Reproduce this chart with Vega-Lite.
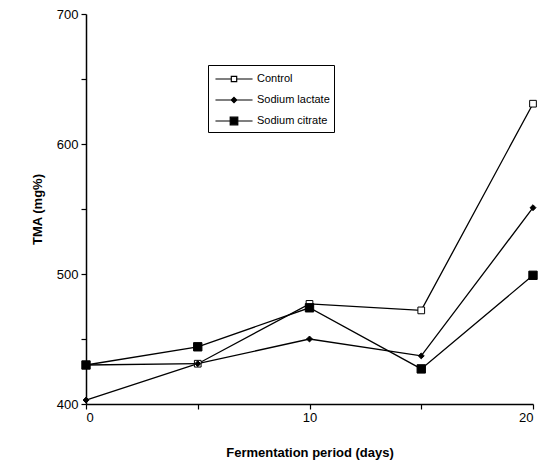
{
  "$schema": "https://vega.github.io/schema/vega-lite/v6.json",
  "width": 447,
  "height": 390,
  "autosize": "none",
  "padding": {"left": 86, "top": 14, "right": 19, "bottom": 62},
  "background": "white",
  "config": {
    "view": {"stroke": null},
    "font": "Liberation Sans",
    "axis": {"domainColor": "black", "tickColor": "black", "labelColor": "black", "titleColor": "black", "grid": false, "labelFont": "Liberation Sans", "titleFont": "Liberation Sans", "labelFontSize": 13, "titleFontSize": 13, "titleFontWeight": "bold", "domainWidth": 1.5, "tickWidth": 1.2}
  },
  "data": {"values": [
    {"series": "Control", "day": 0, "tma": 430},
    {"series": "Control", "day": 5, "tma": 431},
    {"series": "Control", "day": 10, "tma": 477},
    {"series": "Control", "day": 15, "tma": 472},
    {"series": "Control", "day": 20, "tma": 631},
    {"series": "Sodium lactate", "day": 0, "tma": 403},
    {"series": "Sodium lactate", "day": 5, "tma": 431},
    {"series": "Sodium lactate", "day": 10, "tma": 450},
    {"series": "Sodium lactate", "day": 15, "tma": 437},
    {"series": "Sodium lactate", "day": 20, "tma": 551},
    {"series": "Sodium citrate", "day": 0, "tma": 430},
    {"series": "Sodium citrate", "day": 5, "tma": 444},
    {"series": "Sodium citrate", "day": 10, "tma": 474},
    {"series": "Sodium citrate", "day": 15, "tma": 427},
    {"series": "Sodium citrate", "day": 20, "tma": 499}
  ]},
  "encoding": {
    "x": {"field": "day", "type": "quantitative", "scale": {"domain": [0, 20], "nice": false},
      "axis": {"values": [0, 5, 10, 15, 20], "labelExpr": "datum.value % 10 === 0 ? datum.label : ''", "title": "Fermentation period (days)", "titlePadding": 22, "tickSize": 5, "labelPadding": 2}},
    "y": {"field": "tma", "type": "quantitative", "scale": {"domain": [400, 700], "nice": false, "zero": false},
      "axis": {"values": [400, 450, 500, 550, 600, 650, 700], "labelExpr": "datum.value % 100 === 0 ? datum.label : ''", "title": "TMA (mg%)", "titlePadding": 12, "tickSize": 5, "labelPadding": 3}}
  },
  "layer": [
    {
      "mark": {"type": "line", "color": "black", "strokeWidth": 1.3},
      "encoding": {"detail": {"field": "series", "type": "nominal"}}
    },
    {
      "transform": [{"filter": "datum.day < 0"}],
      "mark": {"type": "point", "filled": false, "strokeWidth": 1.2},
      "encoding": {
        "shape": {"field": "series", "type": "nominal",
          "scale": {"domain": ["Control", "Sodium lactate", "Sodium citrate"], "range": ["M-2.06,0H-0.3M0.3,0H2.06M-0.3,-0.3H0.3V0.3H-0.3Z", "M-2.06,0H2.06M0,-0.3L0.3,0L0,0.3L-0.3,0Z", "M-2.06,0H2.06M-0.42,-0.42H0.42V0.42H-0.42Z"]},
          "legend": {
            "orient": "none", "legendX": 122, "legendY": 51, "title": null,
            "strokeColor": "black", "padding": 4, "fillColor": "white",
            "symbolSize": 324, "symbolStrokeWidth": 1.2, "symbolOpacity": 1,
            "labelFontSize": 11, "labelFont": "Liberation Sans", "labelColor": "black", "labelOffset": 13, "rowPadding": 5, "symbolOffset": 12
          }},
        "fill": {"field": "series", "type": "nominal",
          "scale": {"domain": ["Control", "Sodium lactate", "Sodium citrate"], "range": ["white", "black", "black"]}},
        "stroke": {"field": "series", "type": "nominal",
          "scale": {"domain": ["Control", "Sodium lactate", "Sodium citrate"], "range": ["black", "black", "black"]}}
      }
    },
    {
      "transform": [{"filter": "datum.series === 'Control'"}],
      "mark": {"type": "point", "shape": "square", "fill": "white", "stroke": "black", "strokeWidth": 1, "size": 45, "opacity": 1}
    },
    {
      "transform": [{"filter": "datum.series === 'Sodium lactate'"}],
      "mark": {"type": "point", "shape": "diamond", "fill": "black", "stroke": "black", "strokeWidth": 1, "size": 35, "opacity": 1}
    },
    {
      "transform": [{"filter": "datum.series === 'Sodium citrate'"}],
      "mark": {"type": "point", "shape": "square", "fill": "black", "stroke": "black", "strokeWidth": 1, "size": 70, "opacity": 1}
    }
  ]
}
